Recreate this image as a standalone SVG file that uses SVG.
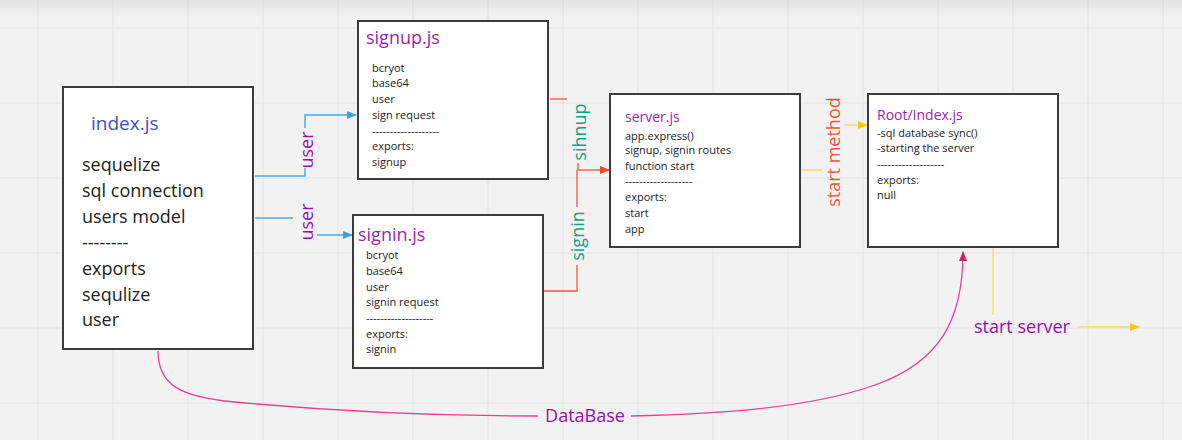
<svg xmlns="http://www.w3.org/2000/svg" width="1182" height="440" viewBox="0 0 1182 440">
<defs>
<style>
.grid{stroke:#e4e4e4;stroke-width:1;fill:none}
.box{fill:#ffffff;stroke:#3c3c3c;stroke-width:2}
.t{font-family:"Open Sans","Liberation Sans",sans-serif;fill:#222}
.big{font-size:18px}
.sm{font-size:11px}
.ttl{font-family:"Open Sans","Liberation Sans",sans-serif;fill:#9c1fb0}
.lbl{font-family:"Open Sans","Liberation Sans",sans-serif;font-size:18px;text-anchor:middle;dominant-baseline:central}
.blue{stroke:#4aa8ee;stroke-width:1.5;fill:none}
.orange{stroke:#f2573f;stroke-width:1.3;fill:none}
.yellow{stroke:#fbe08a;stroke-width:2;fill:none}
.pink{stroke:#e8418c;stroke-width:1.3;fill:none}
</style>
<linearGradient id="topshade" x1="0" y1="0" x2="0" y2="1">
<stop offset="0" stop-color="#000" stop-opacity="0.07"/>
<stop offset="1" stop-color="#000" stop-opacity="0"/>
</linearGradient>
<marker id="ab" markerWidth="10" markerHeight="8" refX="9" refY="4" orient="auto" markerUnits="userSpaceOnUse"><path d="M0,0 L10,4 L0,8 Z" fill="#3d9fe8"/></marker>
<marker id="ao" markerWidth="10" markerHeight="8" refX="9" refY="4" orient="auto" markerUnits="userSpaceOnUse"><path d="M0,0 L10,4 L0,8 Z" fill="#f24726"/></marker>
<marker id="ay" markerWidth="10" markerHeight="8" refX="9" refY="4" orient="auto" markerUnits="userSpaceOnUse"><path d="M0,0 L10,4 L0,8 Z" fill="#fac710"/></marker>
<marker id="ap" markerWidth="10" markerHeight="8" refX="9" refY="4" orient="auto" markerUnits="userSpaceOnUse"><path d="M0,0 L10,4 L0,8 Z" fill="#d81b60"/></marker>
</defs>
<rect width="1182" height="440" fill="#f2f2f2"/>
<g id="grid" class="grid">
<path d="M38,0V440M113,0V440M188,0V440M263,0V440M338,0V440M413,0V440M488,0V440M563,0V440M638,0V440M713,0V440M788,0V440M863,0V440M938,0V440M1013,0V440M1088,0V440M1163,0V440"/>
<path d="M0,28H1182M0,103H1182M0,178H1182M0,253H1182M0,328H1182M0,403H1182"/>
</g>
<rect width="1182" height="16" fill="url(#topshade)"/>

<g id="connectors">
<g id="c-index-signup">
<path class="blue" d="M255,176 H305 V168"/>
<path class="blue" d="M305,128 V115 H356" marker-end="url(#ab)"/>
<text class="lbl" x="306" y="150" fill="#9510ac" transform="rotate(-90 306 150)">user</text>
</g>
<g id="c-index-signin">
<path class="blue" d="M255,218 H293"/>
<path class="blue" d="M317,235 H352" marker-end="url(#ab)"/>
<text class="lbl" x="306" y="222" fill="#9510ac" transform="rotate(-90 306 222)">user</text>
</g>
<g id="c-signup-server">
<path class="orange" stroke="#f8a596" d="M550,99 H567"/>
<path class="orange" stroke="#f8a596" d="M578,163 V170"/>
<path class="orange" d="M577,170 H609" marker-end="url(#ao)"/>
<text class="lbl" x="579" y="132" fill="#14a388" transform="rotate(-90 579 132)">sihnup</text>
</g>
<g id="c-signin-server">
<path class="orange" d="M544,291 H577 V265"/>
<path class="orange" d="M577,207 V170"/>
<text class="lbl" x="577" y="236" fill="#14a388" transform="rotate(-90 577 236)">signin</text>
</g>
<g id="c-server-root">
<path class="yellow" d="M801,170 H822"/>
<path class="yellow" d="M845,125 H867" marker-end="url(#ay)"/>
<text class="lbl" x="833" y="152" fill="#f4533a" transform="rotate(-90 833 152)">start method</text>
</g>
<g id="c-start-server">
<path class="yellow" d="M993,248 V315"/>
<path class="yellow" d="M1077,327 H1139" marker-end="url(#ay)"/>
<text class="lbl" x="1022" y="326" fill="#9510ac">start server</text>
</g>
<g id="c-database">
<path class="pink" d="M158,351 C158,385 180,397 235,402 C320,410 420,416 538,416"/>
<path class="pink" d="M631,416 C720,414 810,408 875,385 C940,362 963,320 963,252" marker-end="url(#ap)"/>
<text class="lbl" x="585" y="415" fill="#9510ac">DataBase</text>
</g>
</g>

<g id="index-js">
<rect class="box" x="63" y="87" width="190" height="262"/>
<text x="91" y="130" font-family="'Open Sans','Liberation Sans',sans-serif" font-size="19" fill="#4150c4">index.js</text>
<text class="t big" x="82" y="171">sequelize</text>
<text class="t big" x="82" y="197">sql connection</text>
<text class="t big" x="82" y="223">users model</text>
<text class="t big" x="82" y="249">--------</text>
<text class="t big" x="82" y="275">exports</text>
<text class="t big" x="82" y="301">sequlize</text>
<text class="t big" x="82" y="326">user</text>
</g>

<g id="signup-js">
<rect class="box" x="358" y="21" width="190" height="158"/>
<text class="ttl" x="366" y="44" font-size="18">signup.js</text>
<text class="t sm" x="372" y="72">bcryot</text>
<text class="t sm" x="372" y="87">base64</text>
<text class="t sm" x="372" y="103">user</text>
<text class="t sm" x="372" y="119">sign request</text>
<text class="t sm" x="372" y="135">-------------------</text>
<text class="t sm" x="372" y="150">exports:</text>
<text class="t sm" x="372" y="166">signup</text>
</g>

<g id="signin-js">
<rect class="box" x="353" y="215" width="190" height="153"/>
<text class="ttl" x="358" y="241" font-size="18">signin.js</text>
<text class="t sm" x="366" y="259">bcryot</text>
<text class="t sm" x="366" y="275">base64</text>
<text class="t sm" x="366" y="291">user</text>
<text class="t sm" x="366" y="306">signin request</text>
<text class="t sm" x="366" y="322">-------------------</text>
<text class="t sm" x="366" y="338">exports:</text>
<text class="t sm" x="366" y="353">signin</text>
</g>

<g id="server-js">
<rect class="box" x="610" y="94" width="190" height="153"/>
<text class="ttl" x="625" y="122" font-size="14">server.js</text>
<text class="t sm" x="625" y="140">app.express()</text>
<text class="t sm" x="625" y="154">signup, signin routes</text>
<text class="t sm" x="625" y="170">function start</text>
<text class="t sm" x="625" y="185">-------------------</text>
<text class="t sm" x="625" y="201">exports:</text>
<text class="t sm" x="625" y="217">start</text>
<text class="t sm" x="625" y="233">app</text>
</g>

<g id="root-index-js">
<rect class="box" x="868" y="94" width="190" height="153"/>
<text class="ttl" x="877" y="120" font-size="14">Root/Index.js</text>
<text class="t sm" x="877" y="137">-sql database sync()</text>
<text class="t sm" x="877" y="152">-starting the server</text>
<text class="t sm" x="877" y="168">-------------------</text>
<text class="t sm" x="877" y="184">exports:</text>
<text class="t sm" x="877" y="199">null</text>
</g>
</svg>
